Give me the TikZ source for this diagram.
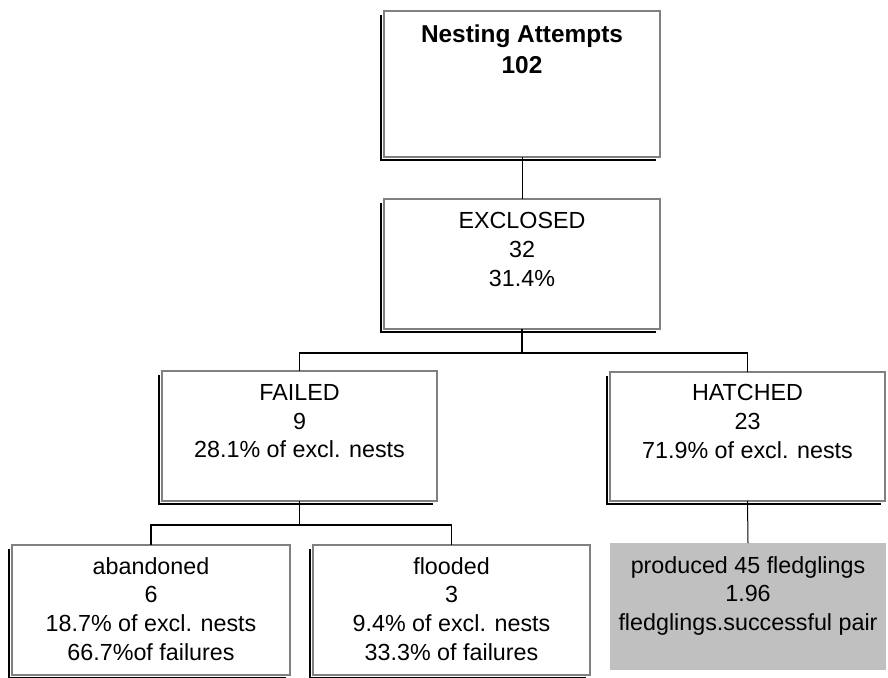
\documentclass[tikz,border=0pt]{standalone}
\usepackage{fontspec}
\setmainfont{Liberation Sans}

\definecolor{boxgray}{HTML}{808080}
\definecolor{fillgray}{HTML}{C0C0C0}

% black shadow on the left and bottom of a box
\newcommand{\boxshadow}[1]{%
  \draw[shadowline] ([xshift=-3.3pt,yshift=-4pt]#1.north west)
    -- ([xshift=-3.3pt,yshift=-3.3pt]#1.south west)
    -- ([xshift=-4pt,yshift=-3.3pt]#1.south east);}

\begin{document}
\begin{tikzpicture}[x=1pt, y=-1pt,
  box/.style={draw=boxgray, line width=2pt, outer sep=0pt, inner sep=0pt},
  shadowline/.style={line width=2pt, black},
  link/.style={line width=1.2pt},
  thinlink/.style={line width=1pt},
  txt/.style={anchor=north, align=center, inner sep=0pt,
    font=\fontsize{23.3}{28.8}\selectfont}]

\useasboundingbox (0,0) rectangle (888,677);

% nesting attempts
\node[box, minimum width=276, minimum height=145.5] (nest) at (522,84.25) {};
\boxshadow{nest}
\node[txt, font=\bfseries\fontsize{24.4}{31}\selectfont] (nestTxt)
  at ([yshift=-13.5pt]nest.north) {Nesting Attempts\\102};

% exclosed
\node[box, minimum width=276, minimum height=130] (excl) at (522,264) {};
\boxshadow{excl}
\node[txt] (exclTxt) at ([yshift=-13pt]excl.north) {EXCLOSED\\32\\31.4\%};

% failed
\node[box, minimum width=275, minimum height=130] (fail) at (299.5,436) {};
\boxshadow{fail}
\node[txt] (failTxt) at ([yshift=-13pt]fail.north) {FAILED\\9\\28.1\% of excl. nests};

% hatched
\node[box, minimum width=275, minimum height=129] (hatch) at (747.5,436) {};
\boxshadow{hatch}
\node[txt] (hatchTxt) at ([yshift=-13pt]hatch.north) {HATCHED\\23\\71.9\% of excl. nests};

% abandoned
\node[box, minimum width=278, minimum height=130] (aband) at (151,610) {};
\boxshadow{aband}
\node[txt] (abandTxt) at ([yshift=-12pt]aband.north)
  {abandoned\\6\\18.7\% of excl. nests\\66.7\%of failures};

% flooded
\node[box, minimum width=277, minimum height=130] (flood) at (451.5,610) {};
\boxshadow{flood}
\node[txt] (floodTxt) at ([yshift=-12pt]flood.north)
  {flooded\\3\\9.4\% of excl. nests\\33.3\% of failures};

% fledglings
\node[fill=fillgray, minimum width=276, minimum height=127, outer sep=0pt] (fledge) at (748,606.5) {};
\node[txt] (fledgeTxt) at ([yshift=-13pt]fledge.north)
  {produced 45 fledglings\\1.96\\fledglings.successful pair};

% links
\draw[thinlink] (nest.south) -- (excl.north);

\coordinate (exclJoin) at ([yshift=-24pt]excl.south);
\draw[link] (excl.south) -- (exclJoin);
\draw[link] (fail.north) |- (exclJoin) -| (hatch.north);

\coordinate (failJoin) at ([yshift=-24pt]fail.south);
\draw[link] (fail.south) -- (failJoin);
\draw[link] (aband.north) |- (failJoin) -| (flood.north);

\draw[thinlink] (hatch.south) -- (fledge.north);

\end{tikzpicture}
\end{document}
